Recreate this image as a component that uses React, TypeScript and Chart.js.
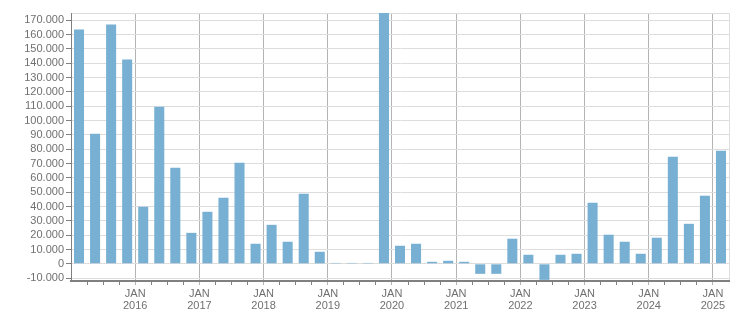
import React, { useEffect, useRef } from "react";
import { Chart, registerables } from "chart.js";

Chart.register(...registerables);

const quarters = [
  "Q1 2015", "Q2 2015", "Q3 2015", "Q4 2015",
  "Q1 2016", "Q2 2016", "Q3 2016", "Q4 2016",
  "Q1 2017", "Q2 2017", "Q3 2017", "Q4 2017",
  "Q1 2018", "Q2 2018", "Q3 2018", "Q4 2018",
  "Q1 2019", "Q2 2019", "Q3 2019", "Q4 2019",
  "Q1 2020", "Q2 2020", "Q3 2020", "Q4 2020",
  "Q1 2021", "Q2 2021", "Q3 2021", "Q4 2021",
  "Q1 2022", "Q2 2022", "Q3 2022", "Q4 2022",
  "Q1 2023", "Q2 2023", "Q3 2023", "Q4 2023",
  "Q1 2024", "Q2 2024", "Q3 2024", "Q4 2024",
  "Q1 2025",
];

const values = [
  163400, 90800, 166900, 142500,
  39800, 109600, 67000, 21600,
  36300, 46100, 70500, 14000,
  27200, 15400, 48900, 8400,
  600, 600, 600, 176000,
  12600, 14000, 1400, 2100,
  1400, -7000, -7000, 17500,
  6300, -11200, 6300, 7000,
  42600, 20300, 15400, 7000,
  18200, 74700, 27900, 47500,
  78900,
];

const yearLabels = ["2016", "2017", "2018", "2019", "2020", "2021", "2022", "2023", "2024", "2025"];
const monthLabel = "JAN";
const yTicks = [
  -10000, 0, 10000, 20000, 30000, 40000, 50000, 60000, 70000, 80000, 90000,
  100000, 110000, 120000, 130000, 140000, 150000, 160000, 170000,
];
const yMin = -12000;
const yMax = 175000;

function fmt(v: number): string {
  const s = Math.abs(v).toString().replace(/\B(?=(\d{3})+(?!\d))/g, ".");
  return (v < 0 ? "-" : "") + s;
}

// index of the quarter that starts each labelled year
const yearStart = (k: number) => quarters.indexOf("Q1 " + yearLabels[k]);

export default function App() {
  const ref = useRef<HTMLCanvasElement | null>(null);

  useEffect(() => {
    if (!ref.current) return;
    const n = quarters.length;
    const boundaries: number[] = [];
    for (let i = 0; i < n; i++) boundaries.push(i + 0.5);
    const yearPos = yearLabels.map((_, k) => yearStart(k) - 0.5);
    const isYear = (v: number) => yearPos.some((p) => Math.abs(p - v) < 1e-6);
    const isEnd = (v: number) => Math.abs(v - (n - 0.5)) < 1e-6;

    const chart = new Chart(ref.current, {
      type: "bar",
      data: {
        datasets: [
          {
            data: values.map((v, i) => ({ x: i, y: v })),
            backgroundColor: "#77b0d3",
            borderWidth: 0,
            barPercentage: 0.625,
            categoryPercentage: 1,
          },
        ],
      },
      options: {
        animation: false,
        responsive: false,
        maintainAspectRatio: false,
        layout: { padding: { top: 13, right: 22, left: 0, bottom: 0 } },
        plugins: { legend: { display: false }, tooltip: { enabled: false } },
        scales: {
          x: {
            type: "linear",
            min: -0.5,
            max: n - 0.5,
            offset: false,
            afterBuildTicks: (scale: any) => {
              scale.ticks = boundaries.map((v) => ({ value: v }));
            },
            afterFit: (scale: any) => {
              scale.height = 32;
            },
            grid: {
              offset: false,
              color: (ctx: any) => {
                const v = ctx.tick ? ctx.tick.value : 0;
                if (isYear(v)) return "#b4b4b4";
                if (isEnd(v)) return "#dddddd";
                return "rgba(0,0,0,0)";
              },
              tickColor: (ctx: any) => {
                const v = ctx.tick ? ctx.tick.value : 0;
                if (isYear(v)) return "#b4b4b4";
                if (isEnd(v)) return "rgba(0,0,0,0)";
                return "#808080";
              },
              lineWidth: 1,
              tickLength: 4,
            },
            border: { color: "#808080", width: 2 },
            ticks: {
              autoSkip: false,
              maxRotation: 0,
              minRotation: 0,
              padding: 3,
              color: "#707070",
              font: { family: "Liberation Sans", size: 11, lineHeight: 1.1 },
              callback: (value: any) => {
                const idx = yearPos.findIndex((p) => Math.abs(p - Number(value)) < 1e-6);
                return idx >= 0 ? [monthLabel, yearLabels[idx]] : "";
              },
            },
          },
          y: {
            min: yMin,
            max: yMax,
            afterBuildTicks: (scale: any) => {
              scale.ticks = [...yTicks, yMax].map((v) => ({ value: v }));
            },
            afterFit: (scale: any) => {
              scale.width = 71;
            },
            grid: {
              color: "#dddddd",
              tickColor: (ctx: any) =>
                ctx.tick && ctx.tick.value === yMax ? "rgba(0,0,0,0)" : "#808080",
              lineWidth: 1,
              tickLength: 5,
            },
            border: { color: "#808080", width: 1 },
            ticks: {
              autoSkip: false,
              padding: 2,
              color: "#707070",
              font: { family: "Liberation Sans", size: 11 },
              callback: (value: any) => (Number(value) === yMax ? "" : fmt(Number(value))),
            },
          },
        },
      },
    });
    return () => chart.destroy();
  }, []);

  return (
    <div style={{ position: "fixed", left: 0, top: 0, width: 751, height: 313, background: "#fff" }}>
      <canvas ref={ref} width={751} height={313} style={{ width: 751, height: 313, display: "block" }} />
    </div>
  );
}
